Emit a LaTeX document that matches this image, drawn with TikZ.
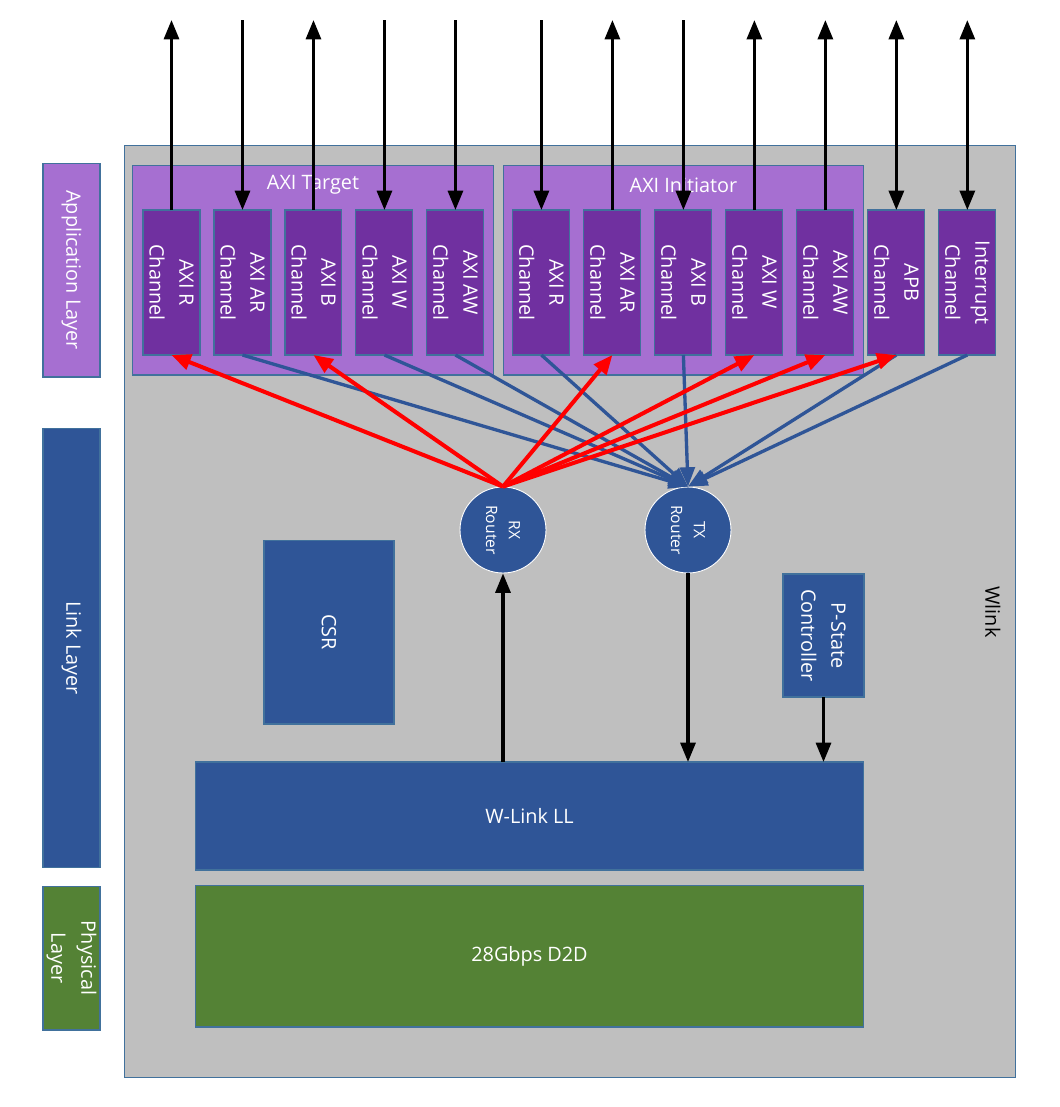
\documentclass[tikz,border=0pt]{standalone}
\usepackage{fontspec}
\setmainfont{Open Sans}
\usepackage{tikz}
\usetikzlibrary{positioning,arrows.meta}

\definecolor{bggrey}{RGB}{191,191,191}
\definecolor{edgeblue}{RGB}{65,113,156}
\definecolor{grppurple}{RGB}{166,111,209}
\definecolor{chanpurple}{RGB}{112,48,160}
\definecolor{linkblue}{RGB}{47,85,151}
\definecolor{physgreen}{RGB}{84,130,53}

\newcommand{\txtsize}{\fontsize{11.3}{17}\selectfont}
\newcommand{\routersize}{\fontsize{8.9}{13}\selectfont}

\begin{document}
\begin{tikzpicture}[x=0.02cm, y=-0.02cm, node distance=0.28cm, font=\txtsize,
    box/.style={rectangle, draw=edgeblue, line width=0.6pt, inner sep=0pt, outer sep=0pt},
    chanbox/.style={box, fill=chanpurple, minimum width=1.14cm, minimum height=2.9cm},
    layerbox/.style={box, minimum width=1.14cm},
    vtext/.style={rotate=-90, align=center, text=white},
    router/.style={circle, draw=white, line width=0.5pt, fill=linkblue, minimum size=1.72cm, inner sep=0pt},
    blkarrow/.style={line width=1.8pt},
    rxarrow/.style={draw=red, line width=2.3pt, -{Triangle[length=11pt, width=9pt]}},
    txarrow/.style={draw=linkblue, line width=1.9pt, -{Triangle[length=11pt, width=8.5pt]}},
    >={Triangle[length=11pt, width=8.5pt]}]
    \useasboundingbox (0,0) rectangle (1060,1107);

    % layers on the left
    \node (applayer) [layerbox, fill=grppurple, minimum height=4.28cm] at (71.5,270) {};
    \node (linklayer) [layerbox, fill=linkblue, minimum height=8.8cm] at (71.5,648) {};
    \node (phylayer) [layerbox, fill=physgreen, minimum height=2.88cm] at (71.5,958) {};
    \node (applbl) [vtext] at (applayer) {Application Layer};
    \node (linklbl) [vtext] at (linklayer) {Link Layer};
    \node (phylbl) [vtext] at (phylayer) {Physical\\Layer};

    % wlink block
    \node (wlink) [box, fill=bggrey, minimum width=17.84cm, minimum height=18.66cm] at (570,611.5) {};
    \node (wlinklbl) [rotate=-90] at (993,612) {Wlink};

    % AXI groups
    \node (tgt) [box, fill=grppurple, minimum width=7.24cm, minimum height=4.2cm] at (313,270) {};
    \node (ini) [box, fill=grppurple, minimum width=7.22cm, minimum height=4.2cm] at (683.5,270) {};
    \node (tgtlbl) [text=white] at (313,185) {AXI Target};
    \node (inilbl) [text=white] at (683.5,185) {AXI Initiator};

    % channels
    \node (tr) [chanbox] at (171.5,282.5) {};
    \node (tar) [chanbox, right=of tr] {};
    \node (tb) [chanbox, right=of tar] {};
    \node (tw) [chanbox, right=of tb] {};
    \node (taw) [chanbox, right=of tw] {};
    \node (ir) [chanbox, right=0.58cm of taw] {};
    \node (iar) [chanbox, right=of ir] {};
    \node (ib) [chanbox, right=of iar] {};
    \node (iw) [chanbox, right=of ib] {};
    \node (iaw) [chanbox, right=of iw] {};
    \node (apb) [chanbox, right=of iaw] {};
    \node (irq) [chanbox, right=of apb] {};

    \node [vtext] at (tr) {AXI R\\Channel};
    \node [vtext] at (tar) {AXI AR\\Channel};
    \node [vtext] at (tb) {AXI B\\Channel};
    \node [vtext] at (tw) {AXI W\\Channel};
    \node [vtext] at (taw) {AXI AW\\Channel};
    \node [vtext] at (ir) {AXI R\\Channel};
    \node [vtext] at (iar) {AXI AR\\Channel};
    \node [vtext] at (ib) {AXI B\\Channel};
    \node [vtext] at (iw) {AXI W\\Channel};
    \node [vtext] at (iaw) {AXI AW\\Channel};
    \node [vtext] at (apb) {APB\\Channel};
    \node [vtext] at (irq) {Interrupt\\Channel};

    % routers and link blocks
    \node (rx) [router] at (503,530) {};
    \node (tx) [router] at (688,530) {};
    \node [vtext, font=\routersize] at (rx) {RX\\Router};
    \node [vtext, font=\routersize] at (tx) {TX\\Router};

    \node (csr) [box, fill=linkblue, minimum width=2.6cm, minimum height=3.68cm] at (329,632) {};
    \node [vtext] at (csr) {CSR};
    \node (pstate) [box, fill=linkblue, minimum width=1.62cm, minimum height=2.46cm] at (823.5,635.5) {};
    \node [vtext] at (pstate) {P-State\\Controller};
    \node (ll) [box, fill=linkblue, minimum width=13.38cm, minimum height=2.16cm, text=white] at (529.5,816) {W-Link LL};
    \node (d2d) [box, fill=physgreen, minimum width=13.38cm, minimum height=2.84cm, text=white] at (529.5,956) {28Gbps D2D};

    % external ends of the channels
    \coordinate (topline) at (0,20);
    \coordinate (tr-up) at (tr.north |- topline);
    \coordinate (tar-up) at (tar.north |- topline);
    \coordinate (tb-up) at (tb.north |- topline);
    \coordinate (tw-up) at (tw.north |- topline);
    \coordinate (taw-up) at (taw.north |- topline);
    \coordinate (ir-up) at (ir.north |- topline);
    \coordinate (iar-up) at (iar.north |- topline);
    \coordinate (ib-up) at (ib.north |- topline);
    \coordinate (iw-up) at (iw.north |- topline);
    \coordinate (iaw-up) at (iaw.north |- topline);
    \coordinate (apb-up) at (apb.north |- topline);
    \coordinate (irq-up) at (irq.north |- topline);

    \draw [blkarrow, ->] (tr.north) -- (tr-up);
    \draw [blkarrow, ->] (tar-up) -- (tar.north);
    \draw [blkarrow, ->] (tb.north) -- (tb-up);
    \draw [blkarrow, ->] (tw-up) -- (tw.north);
    \draw [blkarrow, ->] (taw-up) -- (taw.north);
    \draw [blkarrow, ->] (ir-up) -- (ir.north);
    \draw [blkarrow, ->] (iar.north) -- (iar-up);
    \draw [blkarrow, ->] (ib-up) -- (ib.north);
    \draw [blkarrow, ->] (iw.north) -- (iw-up);
    \draw [blkarrow, ->] (iaw.north) -- (iaw-up);
    \draw [blkarrow, <->] (apb.north) -- (apb-up);
    \draw [blkarrow, <->] (irq.north) -- (irq-up);

    % tx side
    \draw [txarrow] (tar.south) -- (tx.north);
    \draw [txarrow] (tw.south) -- (tx.north);
    \draw [txarrow] (taw.south) -- (tx.north);
    \draw [txarrow] (ir.south) -- (tx.north);
    \draw [txarrow] (ib.south) -- (tx.north);
    \draw [txarrow] (apb.south) -- (tx.north);
    \draw [txarrow] (irq.south) -- (tx.north);

    % rx side
    \draw [rxarrow] (rx.north) -- (tr.south);
    \draw [rxarrow] (rx.north) -- (tb.south);
    \draw [rxarrow] (rx.north) -- (iar.south);
    \draw [rxarrow] (rx.north) -- (iw.south);
    \draw [rxarrow] (rx.north) -- (iaw.south);
    \draw [rxarrow] (rx.north) -- (apb.south);

    \draw [blkarrow, ->] (rx.south |- ll.north) -- (rx.south);
    \draw [blkarrow, ->] (tx.south) -- (tx.south |- ll.north);
    \draw [blkarrow, ->] (pstate.south) -- (pstate.south |- ll.north);
\end{tikzpicture}
\end{document}
